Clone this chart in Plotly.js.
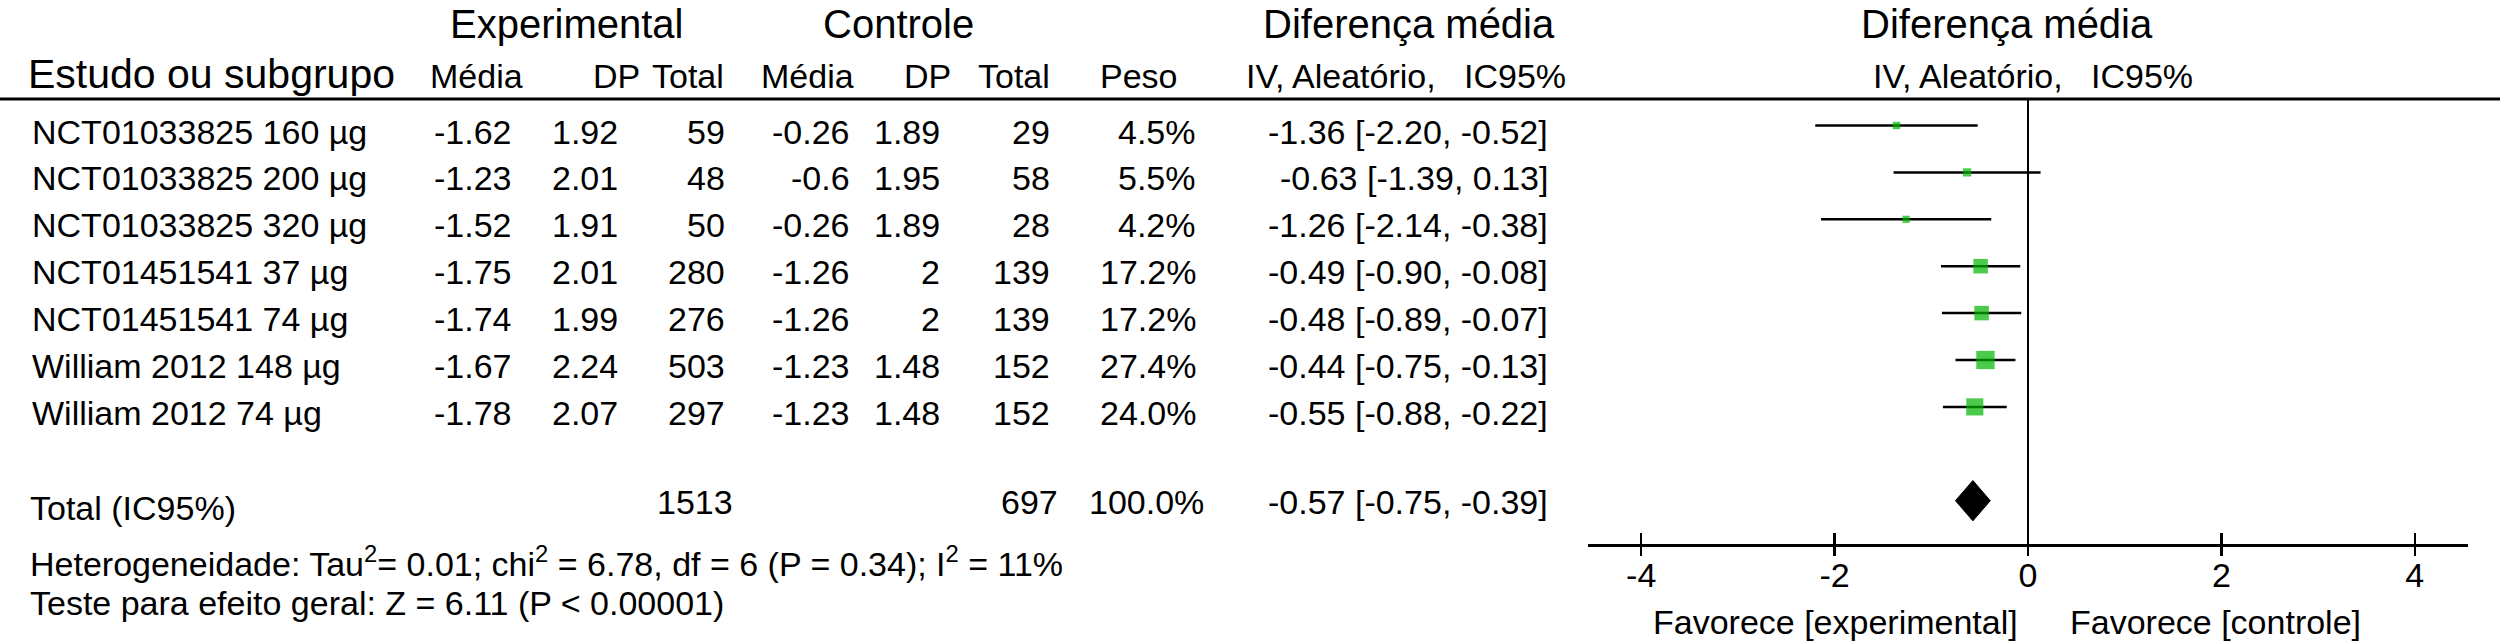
<!DOCTYPE html>
<html>
<head>
<meta charset="utf-8">
<script src="https://cdn.plot.ly/plotly-3.0.1.min.js"></script>
<style>html,body{margin:0;padding:0;background:#fff;}#chart{width:2500px;height:644px;}</style>
</head>
<body>
<div id="chart"></div>
<script>
// ---- data ----
const studies = ['NCT01033825 160 µg', 'NCT01033825 200 µg', 'NCT01033825 320 µg', 'NCT01451541 37 µg', 'NCT01451541 74 µg', 'William 2012 148 µg', 'William 2012 74 µg'];
const expMean = [-1.62, -1.23, -1.52, -1.75, -1.74, -1.67, -1.78];
const expSD = [1.92, 2.01, 1.91, 2.01, 1.99, 2.24, 2.07];
const expN = [59, 48, 50, 280, 276, 503, 297];
const ctlMean = [-0.26, -0.6, -0.26, -1.26, -1.26, -1.23, -1.23];
const ctlSD = [1.89, 1.95, 1.89, 2, 2, 1.48, 1.48];
const ctlN = [29, 58, 28, 139, 139, 152, 152];
const weight = [4.5, 5.5, 4.2, 17.2, 17.2, 27.4, 24.0];
const md = [-1.36, -0.63, -1.26, -0.49, -0.48, -0.44, -0.55];
const ciLo = [-2.20, -1.39, -2.14, -0.90, -0.89, -0.75, -0.88];
const ciHi = [-0.52, 0.13, -0.38, -0.08, -0.07, -0.13, -0.22];
const totalLabel = 'Total (IC95%)';
const totalExpN = 1513;
const totalCtlN = 697;
const totalWeight = 100.0;
const pooledMD = -0.57;
const pooledLo = -0.75;
const pooledHi = -0.39;
const heteroText = 'Heterogeneidade: Tau<sup>2</sup>= 0.01; chi<sup>2</sup> = 6.78, df = 6 (P = 0.34); I<sup>2</sup> = 11%';
const overallText = 'Teste para efeito geral: Z = 6.11 (P < 0.00001)';
const tickVals = [-4, -2, 0, 2, 4];
const tickText = ['-4', '-2', '0', '2', '4'];
const favLeft = 'Favorece [experimental]';
const favRight = 'Favorece [controle]';

// ---- layout helpers ----
const W = 2500, H = 644;
const FONT = 'Liberation Sans, Arial, Helvetica, sans-serif';
const px = x => x / W;
const py = y => 1 - y / H;
const rows = studies.map((s, i) => i + 1);
const totalRow = 9;

const ann = [];
function addText(text, x, y, anchor, size, yref, extra, yanchor) {
  ann.push(Object.assign({
    text: text, x: px(x), xref: 'paper', y: y, yref: yref || 'paper',
    xanchor: anchor, yanchor: yanchor || 'middle', showarrow: false,
    font: {family: FONT, size: size, color: '#000'}
  }, extra || {}));
}

// Titles (top-anchored so they stay inside the page)
const TS = 40;
addText('Experimental', 566, 1, 'center', TS, 'paper', null, 'top');
addText('Controle', 898, 1, 'center', TS, 'paper', null, 'top');
addText('Diferença média', 1557, 1, 'right', TS, 'paper', null, 'top');
addText('Diferença média', 2007, 1, 'center', TS, 'paper', null, 'top');

// Header row
const HS = 34;
addText('Estudo ou subgrupo', 26, py(74), 'left', 41);
const hdrY = py(76);
const hdrCols = [['Média', 525], ['DP', 642], ['Total', 726], ['Média', 856], ['DP', 953], ['Total', 1052], ['Peso', 1180], ['IV, Aleatório,\u00A0\u00A0 IC95%', 1568]];
hdrCols.forEach(c => addText(c[0], c[1], hdrY, 'right', HS));
addText('IV, Aleatório,\u00A0\u00A0 IC95%', 2033, hdrY, 'center', HS);

// Data rows
const colRight = [514, 620, 727, 852, 942, 1052, 1198, 1550];
const DS = 34;
const rowShift = {yshift: -6};
rows.forEach((r, i) => {
  addText(studies[i], 30, r, 'left', DS, 'y', rowShift);
  const vals = [String(expMean[i]), String(expSD[i]), String(expN[i]), String(ctlMean[i]), String(ctlSD[i]), String(ctlN[i]),
    weight[i].toFixed(1) + '%', md[i].toFixed(2) + ' [' + ciLo[i].toFixed(2) + ', ' + ciHi[i].toFixed(2) + ']'];
  vals.forEach((v, j) => addText(v, colRight[j], r, 'right', DS, 'y', rowShift));
});

// Total row
addText(totalLabel, 28, py(508), 'left', DS);
addText(String(totalExpN), 735, py(502), 'right', DS);
addText(String(totalCtlN), 1060, py(502), 'right', DS);
addText(totalWeight.toFixed(1) + '%', 1206, py(502), 'right', DS);
addText(pooledMD.toFixed(2) + ' [' + pooledLo.toFixed(2) + ', ' + pooledHi.toFixed(2) + ']', colRight[7], py(502), 'right', DS);

addText(heteroText, 28, py(561), 'left', DS);
addText(overallText, 28, py(603), 'left', DS);

addText(favLeft, 2020, py(622), 'right', DS);
addText(favRight, 2068, py(622), 'left', DS);

// ---- traces ----
const studyTrace = {
  type: 'scatter', mode: 'markers', x: md, y: rows,
  marker: {symbol: 'square', color: '#00b400', size: weight.map(w => 3.5 * Math.sqrt(w)), line: {width: 0}},
  error_x: {type: 'data', symmetric: false,
    array: md.map((m, i) => ciHi[i] - m), arrayminus: md.map((m, i) => m - ciLo[i]),
    color: '#000', thickness: 2.5, width: 0},
  hoverinfo: 'skip', cliponaxis: false
};
const dh = 0.43;
const diamond = {
  type: 'scatter', mode: 'lines', fill: 'toself', fillcolor: '#000',
  x: [pooledLo, pooledMD, pooledHi, pooledMD, pooledLo],
  y: [totalRow, totalRow - dh, totalRow, totalRow + dh, totalRow],
  line: {color: '#000', width: 1}, hoverinfo: 'skip'
};
const tickHelper = {type: 'scatter', mode: 'markers', x: [0], y: [totalRow], xaxis: 'x2', marker: {opacity: 0}, hoverinfo: 'skip'};

const xDomain = [px(1588), px(2468)];
const xRange = [-4.55, 4.55];
const lineTop = 99, axisY = 544;
const layout = {
  width: W, height: H, margin: {l: 0, r: 0, t: 0, b: 0},
  paper_bgcolor: '#fff', plot_bgcolor: '#fff', showlegend: false,
  xaxis: {domain: xDomain, range: xRange, showgrid: false, zeroline: true, zerolinecolor: '#000', zerolinewidth: 2.5,
    showline: true, linecolor: '#000', linewidth: 2.5, ticks: 'inside', ticklen: 11, tickwidth: 2.5, tickcolor: '#000',
    tickmode: 'array', tickvals: tickVals, ticktext: tickText, tickfont: {family: FONT, size: DS, color: '#000'},
    fixedrange: true},
  xaxis2: {domain: xDomain, range: xRange, overlaying: 'x', anchor: 'y', side: 'bottom', showgrid: false, zeroline: false,
    showline: false, ticks: 'outside', ticklen: 11, tickwidth: 2.5, tickcolor: '#000', tickmode: 'array', tickvals: tickVals,
    showticklabels: false, fixedrange: true},
  yaxis: {domain: [py(axisY), py(lineTop)], range: [1 + (axisY - 125.5) / 46.9, 1 - (125.5 - lineTop) / 46.9],
    visible: false, showgrid: false, zeroline: false, fixedrange: true},
  shapes: [{type: 'line', xref: 'paper', yref: 'paper', x0: 0, x1: 1, y0: py(lineTop), y1: py(lineTop), line: {color: '#000', width: 3}}],
  annotations: ann
};
Plotly.newPlot('chart', [studyTrace, diamond, tickHelper], layout, {staticPlot: true, displayModeBar: false});
</script>
</body>
</html>
